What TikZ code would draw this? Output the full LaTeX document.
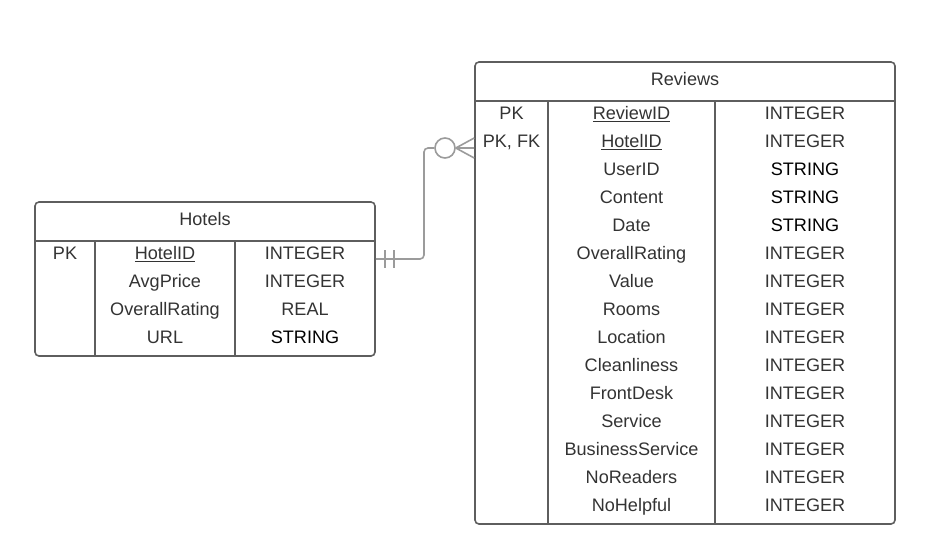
\documentclass[tikz,border=0pt]{standalone}
\usepackage{fontspec}
\setmainfont{Liberation Sans}
\definecolor{bordergray}{HTML}{5E5E5E}
\definecolor{linkgray}{HTML}{9B9B9B}
\definecolor{textgray}{HTML}{333333}
\tikzset{
  tablebox/.style={draw=bordergray, line width=1.6pt, rounded corners=4pt, inner sep=0pt},
  rule/.style={draw=bordergray, line width=1.6pt},
  cell/.style={inner sep=0pt, text=textgray, font=\fontsize{18.1}{21}\selectfont, text height=13pt, text depth=0pt},
  strcell/.style={cell, text=black},
  relline/.style={draw=linkgray, line width=1.6pt}
}
\begin{document}
\begin{tikzpicture}[x=1pt,y=-1pt]
\useasboundingbox (0,0) rectangle (943,550);
% Hotels
\node[tablebox, minimum width=340pt, minimum height=154pt] (hotels) at (205,279) {};
\node[cell] (hotelstitle) at (205,219) {Hotels};
\draw[rule] (hotels.west |- 0,241) -- (hotels.east |- 0,241);
\draw[rule] (95,241) -- (95,356);
\draw[rule] (235,241) -- (235,356);
\node[cell] (hkey1) at (65,253) {PK};
\node[cell] (hname1) at (165,253) {\underline{HotelID}};
\node[cell] (htype1) at (305,253) {INTEGER};
\node[cell] (hname2) at (165,281) {AvgPrice};
\node[cell] (htype2) at (305,281) {INTEGER};
\node[cell] (hname3) at (165,309) {OverallRating};
\node[cell] (htype3) at (305,309) {REAL};
\node[cell] (hname4) at (165,337) {URL};
\node[strcell] (htype4) at (305,337) {STRING};
% Reviews
\node[tablebox, minimum width=420pt, minimum height=462pt] (reviews) at (685,293) {};
\node[cell] (reviewstitle) at (685,79) {Reviews};
\draw[rule] (reviews.west |- 0,101) -- (reviews.east |- 0,101);
\draw[rule] (548,101) -- (548,524);
\draw[rule] (715,101) -- (715,524);
\node[cell] (rkey1) at (511.5,113) {PK};
\node[cell] (rname1) at (631.5,113) {\underline{ReviewID}};
\node[cell] (rtype1) at (805,113) {INTEGER};
\node[cell] (rkey2) at (511.5,141) {PK, FK};
\node[cell] (rname2) at (631.5,141) {\underline{HotelID}};
\node[cell] (rtype2) at (805,141) {INTEGER};
\node[cell] (rname3) at (631.5,169) {UserID};
\node[strcell] (rtype3) at (805,169) {STRING};
\node[cell] (rname4) at (631.5,197) {Content};
\node[strcell] (rtype4) at (805,197) {STRING};
\node[cell] (rname5) at (631.5,225) {Date};
\node[strcell] (rtype5) at (805,225) {STRING};
\node[cell] (rname6) at (631.5,253) {OverallRating};
\node[cell] (rtype6) at (805,253) {INTEGER};
\node[cell] (rname7) at (631.5,281) {Value};
\node[cell] (rtype7) at (805,281) {INTEGER};
\node[cell] (rname8) at (631.5,309) {Rooms};
\node[cell] (rtype8) at (805,309) {INTEGER};
\node[cell] (rname9) at (631.5,337) {Location};
\node[cell] (rtype9) at (805,337) {INTEGER};
\node[cell] (rname10) at (631.5,365) {Cleanliness};
\node[cell] (rtype10) at (805,365) {INTEGER};
\node[cell] (rname11) at (631.5,393) {FrontDesk};
\node[cell] (rtype11) at (805,393) {INTEGER};
\node[cell] (rname12) at (631.5,421) {Service};
\node[cell] (rtype12) at (805,421) {INTEGER};
\node[cell] (rname13) at (631.5,449) {BusinessService};
\node[cell] (rtype13) at (805,449) {INTEGER};
\node[cell] (rname14) at (631.5,477) {NoReaders};
\node[cell] (rtype14) at (805,477) {INTEGER};
\node[cell] (rname15) at (631.5,505) {NoHelpful};
\node[cell] (rtype15) at (805,505) {INTEGER};
% relation
\coordinate (hlink) at (hotels.east |- 0,259);
\coordinate (rlink) at (reviews.west |- 0,148);
\node[relline, circle, minimum size=20pt, inner sep=0pt] (zeroring) at (445,148) {};
\draw[relline, rounded corners=4pt] (hlink) -- (424,259) -- (424,148) -- (zeroring.west);
\draw[relline] (zeroring.east) -- (rlink) (zeroring.east) -- ([yshift=10pt]rlink) (zeroring.east) -- ([yshift=-10pt]rlink);
\draw[relline] (385,250) -- (385,268) (394,250) -- (394,268);
\end{tikzpicture}
\end{document}
